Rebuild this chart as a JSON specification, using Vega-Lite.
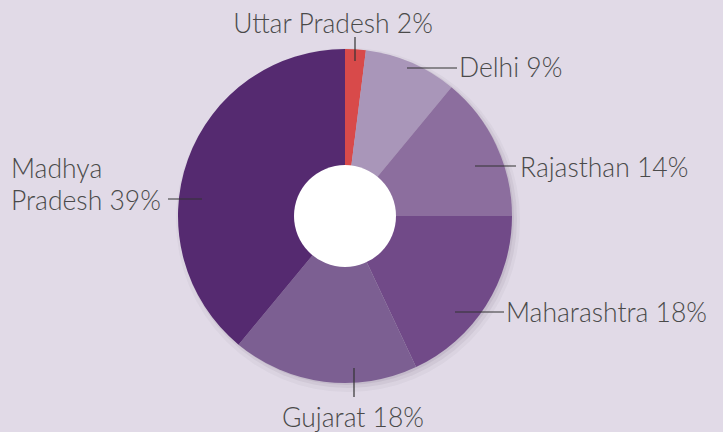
{
  "$schema": "https://vega.github.io/schema/vega-lite/v6.json",
  "width": 723,
  "height": 432,
  "autosize": {"type": "none"},
  "padding": 0,
  "background": "#e1dae7",
  "config": {"view": {"stroke": null}},
  "datasets": {
    "shares": [
      {"region": "Uttar Pradesh", "value": 2, "order": 1},
      {"region": "Delhi", "value": 9, "order": 2},
      {"region": "Rajasthan", "value": 14, "order": 3},
      {"region": "Maharashtra", "value": 18, "order": 4},
      {"region": "Gujarat", "value": 18, "order": 5},
      {"region": "Madhya Pradesh", "value": 39, "order": 6}
    ],
    "labels": [
      {"region": "Uttar Pradesh", "label": "Uttar Pradesh 2%", "lx1": 10, "ly1": -155, "lx2": 10, "ly2": -179, "tx": -12, "ty": -183},
      {"region": "Delhi", "label": "Delhi 9%", "lx1": 62, "ly1": -148, "lx2": 112, "ly2": -148, "tx": 114, "ty": -139},
      {"region": "Rajasthan", "label": "Rajasthan 14%", "lx1": 130, "ly1": -50, "lx2": 171, "ly2": -50, "tx": 175, "ty": -39},
      {"region": "Maharashtra", "label": "Maharashtra 18%", "lx1": 110, "ly1": 96, "lx2": 159, "ly2": 96, "tx": 161, "ty": 106},
      {"region": "Gujarat", "label": "Gujarat 18%", "lx1": 9, "ly1": 152, "lx2": 9, "ly2": 181, "tx": 8, "ty": 211},
      {"region": "Madhya Pradesh", "label": "Madhya\nPradesh 39%", "lx1": -143, "ly1": -17, "lx2": -177, "ly2": -17, "tx": -334, "ty": -38}
    ]
  },
  "layer": [
    {
      "data": {"values": [{}]},
      "mark": {"type": "arc", "outerRadius": 172, "color": "#3a2a4a", "opacity": 0.04},
      "encoding": {
        "x": {"datum": 3, "type": "quantitative", "scale": {"domain": [-345, 378], "nice": false, "zero": false}, "axis": null},
        "y": {"datum": 4, "type": "quantitative", "scale": {"domain": [-216, 216], "reverse": true, "nice": false, "zero": false}, "axis": null}
      }
    },
    {
      "data": {"values": [{}]},
      "mark": {"type": "arc", "outerRadius": 169, "color": "#3a2a4a", "opacity": 0.06},
      "encoding": {
        "x": {"datum": 3, "type": "quantitative", "axis": null},
        "y": {"datum": 3, "type": "quantitative", "axis": null}
      }
    },
    {
      "data": {"values": [{}]},
      "mark": {"type": "arc", "outerRadius": 167, "color": "#3a2a4a", "opacity": 0.08},
      "encoding": {
        "x": {"datum": 2, "type": "quantitative", "axis": null},
        "y": {"datum": 2, "type": "quantitative", "axis": null}
      }
    },
    {
      "data": {"name": "shares"},
      "mark": {"type": "arc", "outerRadius": 167},
      "encoding": {
        "x": {"datum": 0, "type": "quantitative", "axis": null},
        "y": {"datum": 0, "type": "quantitative", "axis": null},
        "theta": {"field": "value", "type": "quantitative", "stack": true},
        "order": {"field": "order", "type": "quantitative"},
        "color": {
          "field": "region",
          "type": "nominal",
          "legend": null,
          "scale": {
            "domain": ["Uttar Pradesh", "Delhi", "Rajasthan", "Maharashtra", "Gujarat", "Madhya Pradesh"],
            "range": ["#d84a4a", "#a996b9", "#8c6e9e", "#714a88", "#7c5f92", "#552a70"]
          }
        }
      }
    },
    {
      "data": {"values": [{}]},
      "mark": {"type": "arc", "outerRadius": 51, "color": "#ffffff"},
      "encoding": {
        "x": {"datum": 0, "type": "quantitative", "axis": null},
        "y": {"datum": 0, "type": "quantitative", "axis": null}
      }
    },
    {
      "data": {"name": "labels"},
      "mark": {"type": "rule", "color": "#333333", "strokeWidth": 1.2},
      "encoding": {
        "x": {"field": "lx1", "type": "quantitative", "axis": null},
        "y": {"field": "ly1", "type": "quantitative", "axis": null},
        "x2": {"field": "lx2"},
        "y2": {"field": "ly2"}
      }
    },
    {
      "data": {"name": "labels"},
      "transform": [{"filter": "datum.region === 'Uttar Pradesh' || datum.region === 'Gujarat'"}],
      "mark": {"type": "text", "align": "center", "baseline": "alphabetic", "font": "Lato", "fontWeight": 300, "fontSize": 26.5, "color": "#4a4a4a"},
      "encoding": {
        "x": {"field": "tx", "type": "quantitative", "axis": null},
        "y": {"field": "ty", "type": "quantitative", "axis": null},
        "text": {"field": "label"}
      }
    },
    {
      "data": {"name": "labels"},
      "transform": [{"filter": "datum.region !== 'Uttar Pradesh' && datum.region !== 'Gujarat'"}],
      "mark": {"type": "text", "align": "left", "baseline": "alphabetic", "font": "Lato", "fontWeight": 300, "fontSize": 26.5, "lineBreak": "\n", "lineHeight": 32, "color": "#4a4a4a"},
      "encoding": {
        "x": {"field": "tx", "type": "quantitative", "axis": null},
        "y": {"field": "ty", "type": "quantitative", "axis": null},
        "text": {"field": "label"}
      }
    }
  ]
}
